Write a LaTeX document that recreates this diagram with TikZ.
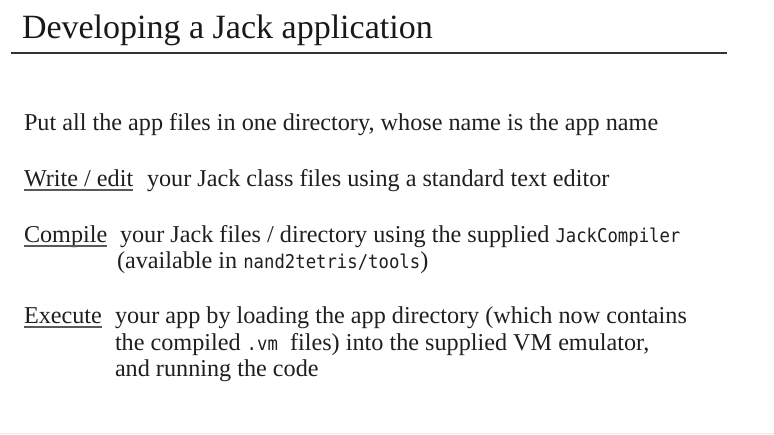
\documentclass[tikz,border=0pt]{standalone}
\usepackage{fontspec}
\setmainfont{Liberation Serif}
\newfontfamily\codefont{DejaVu Sans Mono}[FakeStretch=0.91]
\tikzset{
  txt/.style={anchor=base west, inner sep=0pt, outer sep=0pt, text=black!88, font=\fontsize{24.2}{29}\selectfont},
  ttl/.style={anchor=base west, inner sep=0pt, outer sep=0pt, text=black!90, font=\fontsize{34}{40}\selectfont},
  uline/.style={draw=black!65, line width=1.6pt},
  rule/.style={draw=black!80, line width=2pt}
}
\newcommand{\cde}[1]{{\codefont\fontsize{19}{22}\selectfont #1}}
\begin{document}
\begin{tikzpicture}[x=1pt,y=-1pt]
\useasboundingbox[fill=white] (0,0) rectangle (774,434);
\draw[black!8, line width=1pt] (0,433.5) -- (774,433.5);
\node[ttl] (title) at (22,38) {Developing a Jack application};
\coordinate (rl) at (11,52.5);
\coordinate (rr) at (727,52.5);
\draw[rule] (rl) -- (rr);
\node[txt] (put) at (24,130) {Put all the app files in one directory,\ whose name is the app name};
\node[txt] (write) at (24,186) {Write / edit};
\node[txt] (writer) at (147,186) {your Jack class files using a standard text editor};
\node[txt] (comp) at (24,242) {Compile};
\node[txt] (compr) at (120,242) {your Jack files / directory using the supplied \cde{JackCompiler}};
\node[txt] (comp2) at (117,268) {(available in \cde{nand2tetris/tools})};
\node[txt] (exec) at (24,323) {Execute};
\node[txt] (exec1) at (115,323) {your app by loading the app directory (which now contains};
\node[txt] (exec2) at (115,350) {the compiled \cde{.vm}\ \ files) into the supplied VM emulator,};
\node[txt] (exec3) at (115,376) {and running the code};
\draw[uline] ([yshift=-4pt]write.base west) -- ([yshift=-4pt]write.base east);
\draw[uline] ([yshift=-4pt]comp.base west) -- ([yshift=-4pt]comp.base east);
\draw[uline] ([yshift=-4pt]exec.base west) -- ([yshift=-4pt]exec.base east);
\end{tikzpicture}
\end{document}
